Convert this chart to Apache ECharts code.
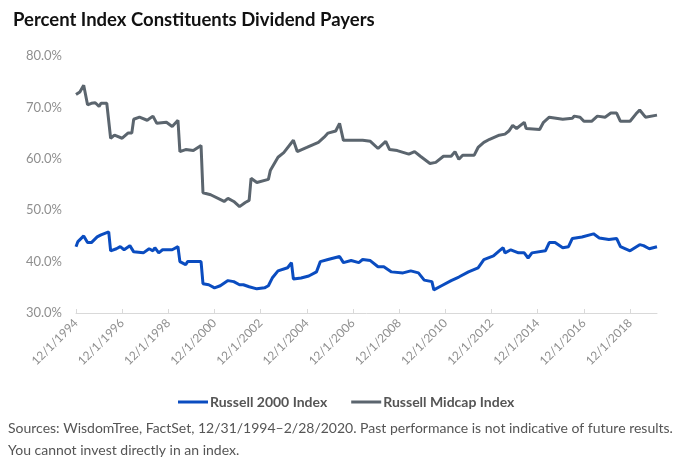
<!DOCTYPE html>
<html>
<head>
<meta charset="utf-8">
<script src="https://cdn.jsdelivr.net/npm/echarts@6/dist/echarts.min.js"></script>
<style>html,body{margin:0;padding:0;background:#fff;}#c{width:700px;height:470px;}</style>
</head>
<body>
<div id="c"></div>
<script>
// Month offsets from Dec 1994 (0 = 12/1994, 302 = 2/2020) and values (%)
const midMonths = [0,1,2,4,5,6,8,10,12,13,16,17,18,20,24,27,29,30,33,37,40,42,47,50,53,54,57,61,65,66,70,77,79,82,85,88,90,91,94,100,101,105,108,113,115,120,126,129,131,135,137,139,143,149,153,157,161,163,167,173,176,179,184,187,191,195,197,199,201,207,209,212,215,220,223,225,227,229,233,234,241,243,246,253,258,259,262,264,268,271,275,278,281,283,288,291,293,296,302];
const midValues = [72.5,72.3,73.0,74.3,74.5,70.5,70.8,70.9,70.2,70.8,70.8,70.7,64.0,64.6,64.0,65.0,65.0,67.7,68.1,67.5,68.3,66.9,67.1,66.3,67.5,61.4,61.8,61.6,62.6,53.4,53.0,51.7,52.3,51.7,50.7,51.5,51.9,56.2,55.4,56.0,57.7,60.3,61.2,63.6,61.4,62.2,63.2,64.2,65.0,65.4,66.9,63.6,63.6,63.6,63.4,62.0,63.4,61.8,61.6,60.9,61.4,60.5,59.1,59.3,60.5,60.5,61.4,59.9,60.7,60.7,62.2,63.2,63.8,64.6,64.8,65.4,66.5,65.9,67.1,65.9,65.7,67.1,68.1,67.7,67.9,68.3,68.1,67.3,67.3,68.3,68.1,68.9,68.9,67.3,67.3,68.7,69.5,68.1,68.5];
const r2kMonths = [0,1,4,5,6,8,11,13,14,17,18,21,23,25,28,30,35,38,40,41,43,45,50,53,54,57,58,65,66,69,72,75,79,82,85,87,90,94,98,100,102,105,110,112,113,117,121,125,127,131,134,137,139,143,147,149,153,157,160,164,170,174,178,181,185,186,190,195,199,204,209,212,217,220,222,223,226,230,233,235,237,244,246,249,253,256,258,263,269,272,277,281,283,288,293,295,298,302];
const r2kValues = [42.9,43.9,45.0,45.2,43.7,43.7,44.8,45.2,45.0,45.8,42.1,42.5,42.9,42.3,43.1,41.9,41.7,42.5,42.1,42.7,41.7,42.3,42.3,42.9,40.0,39.4,40.0,40.0,35.7,35.5,34.9,35.3,36.3,36.1,35.5,35.5,35.1,34.7,34.9,35.3,36.8,38.2,38.8,39.8,36.6,36.8,37.2,38.0,40.0,40.4,40.7,41.0,39.8,40.2,39.8,40.4,40.2,39.0,39.0,38.0,37.8,38.2,37.8,36.4,36.1,34.5,35.3,36.3,37.0,38.0,38.8,40.4,41.1,42.1,42.7,41.7,42.3,41.7,41.7,40.7,41.7,42.1,43.7,43.7,42.7,42.9,44.5,44.8,45.4,44.6,44.3,44.5,42.9,42.1,43.3,43.1,42.5,42.9];
const tickLabels = ['12/1/1994','12/1/1996','12/1/1998','12/1/2000','12/1/2002','12/1/2004','12/1/2006','12/1/2008','12/1/2010','12/1/2012','12/1/2014','12/1/2016','12/1/2018'];
const seriesNames = ['Russell 2000 Index','Russell Midcap Index'];

const zip = (a, b) => a.map((m, i) => [m, b[i]]);
const chart = echarts.init(document.getElementById('c'));
const FONT = 'Lato';
chart.setOption({
  animation: false,
  textStyle: { fontFamily: FONT },
  title: {
    text: 'Percent Index Constituents Dividend Payers',
    left: 8, top: 6,
    textStyle: { fontFamily: FONT, fontSize: 18.5, fontWeight: 'bold', color: '#111' }
  },
  legend: {
    bottom: 56, left: 173,
    itemWidth: 30, itemHeight: 3, itemGap: 24,
    icon: 'rect',
    textStyle: { fontFamily: FONT, fontSize: 14, fontWeight: 'bold', color: '#555', padding: [0, 0, 0, -3] },
    data: seriesNames
  },
  grid: { left: 76, right: 43, top: 56, bottom: 157 },
  xAxis: {
    type: 'value', min: 0, max: 302, interval: 24,
    axisLine: { show: true, lineStyle: { color: '#d9d9d9', width: 1 } },
    axisTick: { show: true, length: 4, inside: true, lineStyle: { color: '#d9d9d9' } },
    splitLine: { show: false },
    axisLabel: {
      rotate: 45, color: '#8f8f8f', fontSize: 12, margin: 8,
      showMaxLabel: false,
      formatter: v => tickLabels[Math.round(v / 24)] || ''
    }
  },
  yAxis: {
    type: 'value', min: 30, max: 80, interval: 10,
    axisLine: { show: false }, axisTick: { show: false },
    splitLine: { show: false },
    axisLabel: { color: '#8f8f8f', fontSize: 13, margin: 14, formatter: v => v.toFixed(1) + '%' }
  },
  series: [
    { name: seriesNames[0], type: 'line', data: zip(r2kMonths, r2kValues), showSymbol: false,
      lineStyle: { color: '#0a4cc0', width: 3 }, itemStyle: { color: '#0a4cc0' } },
    { name: seriesNames[1], type: 'line', data: zip(midMonths, midValues), showSymbol: false,
      lineStyle: { color: '#5b656e', width: 3 }, itemStyle: { color: '#5b656e' } }
  ],
  graphic: [
    { type: 'text', left: 8, top: 421, style: { text: 'Sources: WisdomTree, FactSet, 12/31/1994\u20132/28/2020. Past performance is not indicative of future results.', fontFamily: FONT, fontSize: 14, fill: '#555' } },
    { type: 'text', left: 8, top: 443, style: { text: 'You cannot invest directly in an index.', fontFamily: FONT, fontSize: 14, fill: '#555' } }
  ]
});
</script>
</body>
</html>
